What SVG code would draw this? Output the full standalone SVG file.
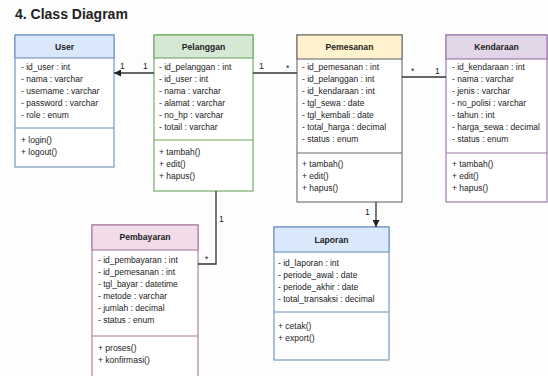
<svg xmlns="http://www.w3.org/2000/svg" width="548" height="376" viewBox="0 0 548 376">
  <defs>
    <marker id="arrow" viewBox="0 0 10 10" refX="10" refY="5" markerWidth="7" markerHeight="7" orient="auto" markerUnits="userSpaceOnUse">
      <path d="M0,0 L10,5 L0,10 z" fill="#222"/>
    </marker>
    <style>
      text { font-family: "Liberation Sans", Arial, sans-serif; fill: #222; }
      .title { font-size: 14px; font-weight: bold; }
      .head { font-size: 8.6px; font-weight: bold; text-anchor: middle; }
      .row { font-size: 8.5px; }
      .mult { font-size: 8.5px; }
      .body { fill: #ffffff; stroke-width: 1.1; }
      .sep { stroke-width: 1; }
      .conn { fill: none; stroke: #333; stroke-width: 1.3; }
      .blue { stroke: #6c8ebf; }
      .green { stroke: #6aa65a; }
      .yellow { stroke: #6b6b6b; }
      .purple { stroke: #9673a6; }
      .pink { stroke: #a8789a; }
    </style>
  </defs>

  <rect width="548" height="376" fill="#fdfdfd"/>

  <text class="title" x="15" y="19">4. Class Diagram</text>

  <!-- User -->
  <g id="user">
    <rect class="body blue" x="15" y="35" width="99" height="132"/>
    <rect x="15" y="35" width="99" height="23" fill="#dae8fc" class="blue" stroke-width="1.1"/>
    <text class="head" x="64.5" y="50">User</text>
    <text class="row" x="21" y="70">- id_user : int</text>
    <text class="row" x="21" y="82">- nama : varchar</text>
    <text class="row" x="21" y="94">- username : varchar</text>
    <text class="row" x="21" y="106">- password : varchar</text>
    <text class="row" x="21" y="118">- role : enum</text>
    <line class="sep blue" x1="15" y1="128" x2="114" y2="128"/>
    <text class="row" x="21" y="143">+ login()</text>
    <text class="row" x="21" y="155">+ logout()</text>
  </g>

  <!-- Pelanggan -->
  <g id="pelanggan">
    <rect class="body green" x="154" y="35" width="99" height="156"/>
    <rect x="154" y="35" width="99" height="23" fill="#d5e8d4" class="green" stroke-width="1.1"/>
    <text class="head" x="203.5" y="50">Pelanggan</text>
    <text class="row" x="159" y="70">- id_pelanggan : int</text>
    <text class="row" x="159" y="82">- id_user : int</text>
    <text class="row" x="159" y="94">- nama : varchar</text>
    <text class="row" x="159" y="106">- alamat : varchar</text>
    <text class="row" x="159" y="118">- no_hp : varchar</text>
    <text class="row" x="159" y="130">- totail : varchar</text>
    <line class="sep green" x1="154" y1="140" x2="253" y2="140"/>
    <text class="row" x="159" y="155">+ tambah()</text>
    <text class="row" x="159" y="167">+ edit()</text>
    <text class="row" x="159" y="179">+ hapus()</text>
  </g>

  <!-- Pemesanan -->
  <g id="pemesanan">
    <rect class="body yellow" x="297" y="35" width="105" height="167"/>
    <rect x="297" y="35" width="105" height="24" fill="#fff2cc" class="yellow" stroke-width="1.1"/>
    <text class="head" x="349.5" y="50">Pemesanan</text>
    <text class="row" x="302" y="70">- id_pemesanan : int</text>
    <text class="row" x="302" y="82">- id_pelanggan : int</text>
    <text class="row" x="302" y="94">- id_kendaraan : int</text>
    <text class="row" x="302" y="106">- tgl_sewa : date</text>
    <text class="row" x="302" y="118">- tgl_kembali : date</text>
    <text class="row" x="302" y="130">- total_harga : decimal</text>
    <text class="row" x="302" y="142">- status : enum</text>
    <line class="sep yellow" x1="297" y1="153" x2="402" y2="153"/>
    <text class="row" x="302" y="167">+ tambah()</text>
    <text class="row" x="302" y="179">+ edit()</text>
    <text class="row" x="302" y="191">+ hapus()</text>
  </g>

  <!-- Kendaraan -->
  <g id="kendaraan">
    <rect class="body purple" x="446" y="35" width="101" height="167"/>
    <rect x="446" y="35" width="101" height="24" fill="#e1d5e7" class="purple" stroke-width="1.1"/>
    <text class="head" x="496.5" y="50">Kendaraan</text>
    <text class="row" x="452" y="70">- id_kendaraan : int</text>
    <text class="row" x="452" y="82">- nama : varchar</text>
    <text class="row" x="452" y="94">- jenis : varchar</text>
    <text class="row" x="452" y="106">- no_polisi : varchar</text>
    <text class="row" x="452" y="118">- tahun : int</text>
    <text class="row" x="452" y="130">- harga_sewa : decimal</text>
    <text class="row" x="452" y="142">- status : enum</text>
    <line class="sep purple" x1="446" y1="153" x2="547" y2="153"/>
    <text class="row" x="452" y="167">+ tambah()</text>
    <text class="row" x="452" y="179">+ edit()</text>
    <text class="row" x="452" y="191">+ hapus()</text>
  </g>

  <!-- Pembayaran -->
  <g id="pembayaran">
    <rect class="body pink" x="92" y="225" width="106" height="160"/>
    <rect x="92" y="225" width="106" height="25" fill="#f3dcea" class="pink" stroke-width="1.1"/>
    <text class="head" x="145" y="240">Pembayaran</text>
    <text class="row" x="98" y="263">- id_pembayaran : int</text>
    <text class="row" x="98" y="275">- id_pemesanan : int</text>
    <text class="row" x="98" y="287">- tgl_bayar : datetime</text>
    <text class="row" x="98" y="299">- metode : varchar</text>
    <text class="row" x="98" y="311">- jumlah : decimal</text>
    <text class="row" x="98" y="323">- status : enum</text>
    <line class="sep pink" x1="92" y1="336" x2="198" y2="336"/>
    <text class="row" x="98" y="351">+ proses()</text>
    <text class="row" x="98" y="363">+ konfirmasi()</text>
  </g>

  <!-- Laporan -->
  <g id="laporan">
    <rect class="body blue" x="274" y="227" width="115" height="133"/>
    <rect x="274" y="227" width="115" height="25" fill="#dae8fc" class="blue" stroke-width="1.1"/>
    <text class="head" x="331.5" y="243">Laporan</text>
    <text class="row" x="278" y="266">- id_laporan : int</text>
    <text class="row" x="278" y="278">- periode_awal : date</text>
    <text class="row" x="278" y="290">- periode_akhir : date</text>
    <text class="row" x="278" y="302">- total_transaksi : decimal</text>
    <line class="sep blue" x1="274" y1="312" x2="389" y2="312"/>
    <text class="row" x="278" y="329">+ cetak()</text>
    <text class="row" x="278" y="341">+ export()</text>
  </g>

  <!-- Connectors -->
  <g id="connectors">
    <line class="conn" x1="154" y1="73" x2="114" y2="73" marker-end="url(#arrow)"/>
    <line class="conn" x1="253" y1="73" x2="297" y2="73"/>
    <line class="conn" x1="402" y1="77" x2="446" y2="77"/>
    <polyline class="conn" points="216,191 216,264 198,264"/>
    <line class="conn" x1="376" y1="202" x2="376" y2="227" marker-end="url(#arrow)"/>

    <text class="mult" x="120" y="69">1</text>
    <text class="mult" x="143" y="69">1</text>
    <text class="mult" x="259" y="69">1</text>
    <text class="mult" x="286" y="71">*</text>
    <text class="mult" x="411" y="74">*</text>
    <text class="mult" x="435" y="74">1</text>
    <text class="mult" x="219" y="222">1</text>
    <text class="mult" x="205" y="262">*</text>
    <text class="mult" x="365" y="215">1</text>
  </g>
</svg>
